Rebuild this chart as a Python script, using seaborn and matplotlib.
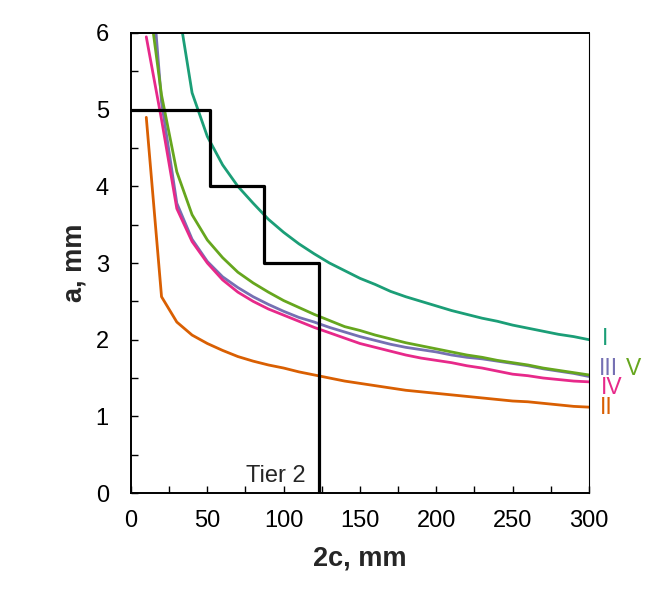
import numpy as np
import pandas as pd
import matplotlib
matplotlib.use("Agg")
import matplotlib.pyplot as plt
import seaborn as sns

# ------------------------------------------------------------
# Data
# ------------------------------------------------------------

crack_length = list(range(10, 310, 10))  # 2c, mm

curve_I = [np.nan, np.nan, 6.46, 5.22, 4.65, 4.28, 4.00, 3.78, 3.57, 3.40,
           3.25, 3.12, 3.00, 2.90, 2.80, 2.72, 2.63, 2.56, 2.50, 2.44,
           2.38, 2.33, 2.28, 2.24, 2.19, 2.15, 2.11, 2.07, 2.04, 2.00]
curve_II = [4.90, 2.56, 2.23, 2.06, 1.95, 1.86, 1.78, 1.72, 1.67, 1.63,
            1.58, 1.54, 1.50, 1.46, 1.43, 1.40, 1.37, 1.34, 1.32, 1.30,
            1.28, 1.26, 1.24, 1.22, 1.20, 1.19, 1.17, 1.15, 1.13, 1.12]
curve_III = [7.60, 5.10, 3.78, 3.31, 3.02, 2.82, 2.68, 2.56, 2.46, 2.37,
             2.29, 2.23, 2.16, 2.10, 2.04, 1.99, 1.94, 1.90, 1.87, 1.84,
             1.80, 1.77, 1.75, 1.72, 1.69, 1.66, 1.62, 1.59, 1.56, 1.52]
curve_IV = [5.95, 4.87, 3.71, 3.28, 3.00, 2.78, 2.62, 2.50, 2.40, 2.32,
            2.24, 2.16, 2.09, 2.02, 1.95, 1.90, 1.85, 1.80, 1.76, 1.73,
            1.70, 1.66, 1.63, 1.59, 1.55, 1.53, 1.50, 1.48, 1.46, 1.45]
curve_V = [6.70, 5.19, 4.19, 3.63, 3.30, 3.07, 2.88, 2.74, 2.62, 2.51,
           2.42, 2.33, 2.25, 2.17, 2.12, 2.06, 2.01, 1.96, 1.92, 1.88,
           1.84, 1.80, 1.77, 1.73, 1.70, 1.67, 1.63, 1.60, 1.57, 1.54]

tier_x = [0, 52, 87, 123]
tier_y = [5, 4, 3, 0]

curve_names = ["I", "II", "III", "IV", "V"]
curve_colors = ["#1b9e77", "#d95f02", "#7570b3", "#e7298a", "#66a61e"]

# ------------------------------------------------------------
# Build long-form table
# ------------------------------------------------------------

frames = []
for name, values in zip(curve_names, [curve_I, curve_II, curve_III, curve_IV, curve_V]):
    frames.append(pd.DataFrame({"2c": crack_length, "a": values, "curve": name}))
df = pd.concat(frames).dropna()

tier_df = pd.DataFrame({"2c": tier_x, "a": tier_y})

# ------------------------------------------------------------
# Plot
# ------------------------------------------------------------

sns.set_style("ticks")
plt.rcParams["font.family"] = ["Liberation Sans", "DejaVu Sans"]

fig = plt.figure(figsize=(6.58, 6.11), dpi=100)
ax = fig.add_axes([0.1991, 0.1931, 0.6960, 0.7529])

sns.lineplot(data=df, x="2c", y="a", hue="curve", hue_order=curve_names,
             palette=curve_colors, linewidth=2.0, legend=False, sort=False, ax=ax)
sns.lineplot(data=tier_df, x="2c", y="a", color="black", linewidth=2.3,
             drawstyle="steps-post", sort=False, ax=ax)

ax.set_xlim(0, 300)
ax.set_ylim(0, 6)
ax.set_xticks(range(0, 301, 50))
ax.set_xticks(range(25, 300, 50), minor=True)
ax.set_yticks(range(0, 7, 1))
ax.set_yticks(np.arange(0.5, 6, 1.0), minor=True)
ax.tick_params(which="both", direction="in", length=5, width=1, labelsize=17,
               colors="black")
ax.tick_params(axis="x", pad=12)
ax.tick_params(axis="y", pad=16)

for side in ["left", "bottom", "top"]:
    ax.spines[side].set_linewidth(1.4)
    ax.spines[side].set_color("black")
ax.spines["right"].set_linewidth(0.8)
ax.spines["right"].set_color("black")

ax.set_xlabel("2c, mm", fontsize=19.5, fontweight="bold", labelpad=10)
ax.set_ylabel("a, mm", fontsize=19.5, fontweight="bold", labelpad=6)

ax.text(114.5, 0.14, "Tier 2", fontsize=17, ha="right", va="baseline")

# curve labels to the right of the plot
label_pos = {"I": (310.5, 2.02), "II": (311, 1.12), "III": (313, 1.63),
             "IV": (315, 1.37), "V": (329, 1.63)}
for name, color in zip(curve_names, curve_colors):
    lx, ly = label_pos[name]
    ax.text(lx, ly, name, color=color, fontsize=16.5, ha="center", va="center",
            clip_on=False)

fig.savefig("out.png", dpi=100)
plt.close(fig)
